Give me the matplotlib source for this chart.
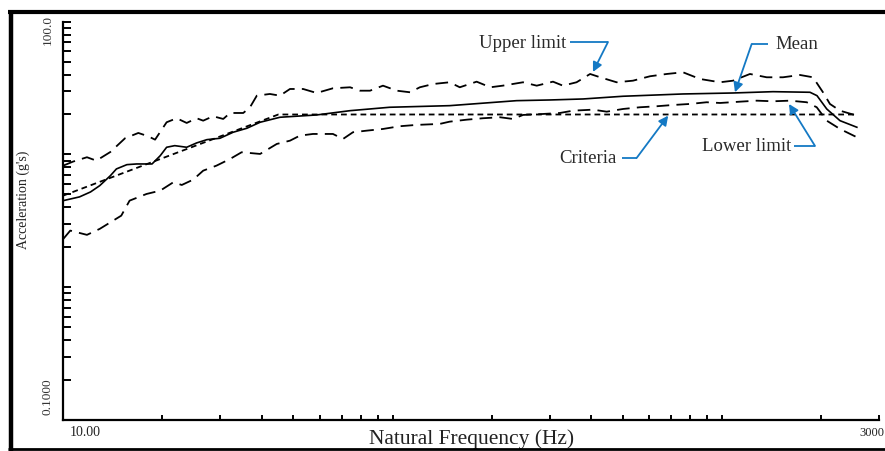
import numpy as np
import matplotlib
matplotlib.use("Agg")
import matplotlib.pyplot as plt
from matplotlib.lines import Line2D
from matplotlib.ticker import LogLocator, NullFormatter, NullLocator

# values (Hz, g)
mean_freq = [10, 11.2, 12.1, 12.9, 13.9, 14.5, 15.6, 16.7, 18.6, 19.7, 20.6, 21.8, 23.7,
             25.4, 27.3, 29.9, 32.8, 36.1, 39.6, 45.5, 58.8, 74.3, 98, 149, 238, 301,
             379, 501, 762, 1081, 1430, 1852, 1945, 2082, 2284, 2570]
mean_acc = [4.49, 4.79, 5.22, 5.82, 6.92, 7.78, 8.38, 8.48, 8.48, 9.79, 11.33, 11.65, 11.33,
            12.21, 12.93, 13.24, 14.70, 15.75, 17.48, 19.06, 19.84, 21.37, 22.67, 23.31, 25.42,
            25.73, 26.18, 27.44, 28.55, 29.04, 29.71, 29.40, 27.72, 22.01, 17.97, 16.03]

upper_freq = [10, 10.7, 11.8, 12.6, 13.9, 15.4, 16.9, 18.1, 19.0, 20.6, 22.1, 23.7, 25.4,
              26.6, 28.5, 30.6, 32.1, 35.2, 36.9, 38.7, 42.4, 45.5, 48.8, 53.5, 58.8, 65.9,
              74.3, 79.6, 85.4, 93.5, 103, 113, 121, 133, 149, 160, 180, 198, 216, 249, 274,
              307, 329, 362, 398, 427, 479, 537, 605, 680, 762, 858, 987, 1081, 1217, 1368,
              1533, 1727, 1891, 2028, 2129, 2284, 2570]
upper_acc = [8.24, 8.83, 9.53, 8.98, 10.44, 13.24, 14.52, 13.71, 12.93, 17.48, 18.74, 17.27,
             18.74, 17.97, 19.40, 18.51, 20.53, 20.53, 22.67, 27.72, 28.55, 27.72, 31.13, 31.13,
             29.04, 31.51, 32.06, 30.22, 30.22, 32.97, 30.22, 29.40, 32.06, 33.95, 34.97, 32.06,
             35.34, 32.06, 32.97, 34.97, 32.97, 35.34, 32.97, 34.97, 40.38, 38.13, 34.97, 35.95,
             38.81, 40.38, 41.59, 37.03, 34.97, 35.95, 40.38, 38.13, 38.13, 39.68, 38.13, 29.40,
             24.01, 21.37, 19.60]

lower_freq = [10, 10.5, 11.8, 12.9, 15.0, 15.9, 17.9, 19.7, 21.6, 22.9, 24.8, 26.6, 29.2,
              32.1, 34.8, 39.6, 44.5, 48.8, 52.3, 57.3, 65.9, 70.7, 75.8, 83.4, 93.5, 105,
              118, 139, 149, 168, 188, 212, 232, 249, 286, 322, 353, 406, 447, 501, 564, 634,
              711, 800, 899, 987, 1135, 1276, 1430, 1610, 1810, 1941, 2082, 2284, 2570]
lower_acc = [2.31, 2.67, 2.48, 2.75, 3.46, 4.49, 5.04, 5.34, 6.18, 5.89, 6.46, 7.55, 8.24,
             9.25, 10.39, 10.09, 12.0, 12.70, 13.86, 14.27, 14.27, 13.08, 14.70, 15.11, 15.56,
             16.31, 16.69, 16.98, 17.66, 18.28, 18.74, 19.06, 18.51, 19.84, 20.18, 20.53, 21.37,
             21.75, 21.00, 22.01, 22.67, 23.07, 23.59, 24.01, 24.73, 24.42, 24.98, 25.42, 25.15,
             25.42, 24.73, 22.67, 17.97, 15.56, 13.48]

criteria_freq = [10, 45, 2570]
criteria_acc = [4.9, 20, 20]

# annotation labels: (text, text anchor, leader start, elbow, arrow tip, alignment)
notes = [
    ("Upper limit", (338, 70.3), (346, 70.3), (451, 70.3), (406, 41.8), "right"),
    ("Mean", (1457, 68.0), (1380, 68.0), (1232, 68.0), (1096, 29.4), "left"),
    ("Criteria", (480, 9.41), (496, 9.41), (551, 9.41), (687, 19.6), "right"),
    ("Lower limit", (868, 11.59), (1659, 11.59), (1918, 11.59), (1599, 24.0), "left"),
]

blue = "#1479c4"
serif = ["Liberation Serif", "DejaVu Serif"]
plt.rcParams["font.family"] = serif

fig = plt.figure(figsize=(8.85, 4.52), dpi=100)
ax = fig.add_axes([0.0715, 0.0686, 0.9217, 0.8812])

lw = 1.3
ax.plot(mean_freq, mean_acc, color="black", lw=1.2)
ax.plot(upper_freq, upper_acc, color="black", lw=lw, dashes=(7.0, 4.0))
ax.plot(lower_freq, lower_acc, color="black", lw=lw, dashes=(7.0, 4.0))
ax.plot(criteria_freq, criteria_acc, color="black", lw=lw, dashes=(3.2, 2.2))

ax.set_xscale("log")
ax.set_yscale("log")
ax.set_xlim(10, 3000)
ax.set_ylim(0.1, 100)

for axis in (ax.xaxis, ax.yaxis):
    axis.set_major_locator(LogLocator(base=10, subs=np.arange(1, 10), numticks=60))
    axis.set_major_formatter(NullFormatter())
    axis.set_minor_locator(NullLocator())
ax.tick_params(axis="y", direction="in", length=6, width=1.4)
ax.tick_params(axis="x", direction="in", length=3.5, width=1.4)

for side in ("top", "right"):
    ax.spines[side].set_visible(False)
for side in ("left", "bottom"):
    ax.spines[side].set_linewidth(1.6)

# end labels of the axes
ytr = ax.get_yaxis_transform()
ax.text(-0.019, 88, "100.0", transform=ytr, rotation=90, ha="center", va="center",
        fontsize=9.5, color="#333333")
ax.text(-0.019, 0.152, "0.1000", transform=ytr, rotation=90, ha="center", va="center",
        fontsize=9.5, color="#333333")
ax.text(0.008, -0.03, "10.00", transform=ax.transAxes, ha="left", va="center",
        fontsize=10, color="#222222")
ax.text(1.006, -0.03, "3000", transform=ax.transAxes, ha="right", va="center",
        fontsize=9, color="#222222")

ax.text(0.5, -0.045, "Natural Frequency (Hz)", transform=ax.transAxes, ha="center",
        va="center", fontsize=15.5, color="#222222")
ax.text(-0.0494, 0.555, "Acceleration (g's)", transform=ax.transAxes, rotation=90,
        ha="center", va="center", fontsize=10, color="#222222")

for label, txt_xy, start, elbow, tip, ha in notes:
    ax.text(txt_xy[0], txt_xy[1], label, ha=ha, va="center", fontsize=13.5, color="#2a2a2a")
    ax.plot([start[0], elbow[0]], [start[1], elbow[1]], color=blue, lw=1.3,
            solid_capstyle="butt")
    ax.annotate("", xy=tip, xytext=elbow,
                arrowprops=dict(arrowstyle="-|>", color=blue, lw=1.3, mutation_scale=14,
                                shrinkA=0, shrinkB=0))

# heavy frame around the figure (top, left, bottom)
frame = dict(color="black", solid_capstyle="butt", transform=fig.transFigure)
fig.add_artist(Line2D([0.009, 1.0], [0.9706, 0.9706], lw=3.0, **frame))
fig.add_artist(Line2D([0.0124, 0.0124], [0.0, 0.974], lw=3.2, **frame))
fig.add_artist(Line2D([0.009, 1.0], [0.0055, 0.0055], lw=2.0, **frame))

fig.savefig("out.png", dpi=100)
